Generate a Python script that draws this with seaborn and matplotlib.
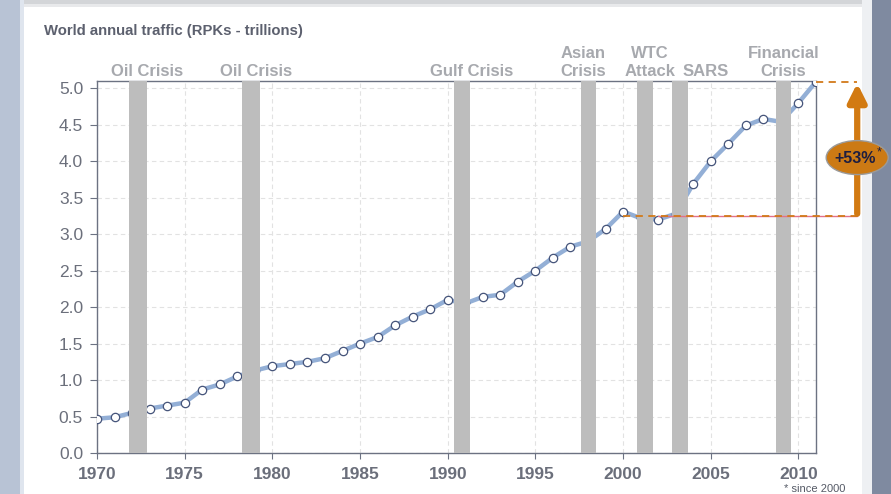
import matplotlib
matplotlib.use("Agg")
import matplotlib.pyplot as plt
import seaborn as sns
import pandas as pd
from matplotlib.patches import Rectangle, Ellipse
import matplotlib.transforms as mtransforms

# ---------------- data ----------------
years = list(range(1970, 2012))
rpk = [0.47, 0.49, 0.55, 0.61, 0.65, 0.69, 0.87, 0.94, 1.05, 1.13,
       1.19, 1.22, 1.25, 1.30, 1.40, 1.50, 1.59, 1.75, 1.87, 1.97,
       2.10, 2.05, 2.14, 2.17, 2.35, 2.50, 2.68, 2.83, 2.90, 3.07,
       3.31, 3.22, 3.20, 3.28, 3.69, 4.00, 4.24, 4.49, 4.58, 4.54,
       4.80, 5.09]
crisis_labels = ["Oil Crisis", "Oil Crisis", "Gulf Crisis", "Asian\nCrisis",
                 "WTC\nAttack", "SARS", "Financial\nCrisis"]
crisis_start = [1971.83, 1978.27, 1990.37, 1997.60, 2000.80, 2002.80, 2008.70]
crisis_end = [1972.85, 1979.30, 1991.28, 1998.46, 2001.70, 2003.70, 2009.60]
crisis_label_x = [1972.88, 1979.07, 1991.39, 1997.72, 2001.55, 2004.68, 2009.13]
baseline_2000 = 3.25
growth_label = "+53%"
x_ticks = [1970, 1975, 1980, 1985, 1990, 1995, 2000, 2005, 2010]
y_ticks = [0.0, 0.5, 1.0, 1.5, 2.0, 2.5, 3.0, 3.5, 4.0, 4.5, 5.0]

df = pd.DataFrame({"year": years, "rpk": rpk})

sns.set_theme(style="white")
plt.rcParams['font.family'] = ['Liberation Sans', 'DejaVu Sans']

W, H = 891, 494
fig = plt.figure(figsize=(W / 100, H / 100), dpi=100)
fig.patch.set_facecolor("white")

def px(x0, y0, w, h, color, z=-5):
    fig.patches.append(Rectangle((x0 / W, 1 - (y0 + h) / H), w / W, h / H,
                                 transform=fig.transFigure, color=color,
                                 zorder=z, linewidth=0))

# background frame
px(0, 0, 20, H, "#b8c3d5")
px(20, 0, 4, H, "#dfe5ee")
px(862, 0, 10, H, "#eef0f3")
px(872, 0, 19, H, "#7f8aa0")
px(24, 0, 838, 4, "#d3d5d8")
px(24, 4, 838, 3, "#e8e9eb")

ax = fig.add_axes([97 / W, 1 - 453 / H, (816 - 97) / W, (453 - 81) / H])
ax.set_zorder(2)
ax.set_facecolor("white")

sns.lineplot(data=df, x="year", y="rpk", ax=ax, color="#93afd6", linewidth=3.2,
             marker="o", markersize=6, markerfacecolor="white",
             markeredgecolor="#45547a", markeredgewidth=0.9, zorder=3)

for s, e in zip(crisis_start, crisis_end):
    ax.axvspan(s, e, color="#bdbdbd", zorder=4, linewidth=0)

ax.set_xlim(1970, 2011)
ax.set_ylim(0, 5.1)
ax.set_xticks(x_ticks)
ax.set_yticks(y_ticks)
ax.set_yticklabels([f"{v:.1f}" for v in y_ticks])
ax.set_xlabel("")
ax.set_ylabel("")
ax.grid(True, color="#e2e2e2", linestyle=(0, (4, 3)), linewidth=0.8)
ax.set_axisbelow(True)
for sp in ax.spines.values():
    sp.set_color("#6c7282")
    sp.set_linewidth(1.0)
ax.tick_params(axis="x", length=4, width=0.8, color="#6c7282", pad=6,
               labelsize=12.5, labelcolor="#6b6f7b", bottom=True)
ax.tick_params(axis="y", length=5, width=0.8, color="#6c7282", pad=5,
               labelsize=12.5, labelcolor="#6b6f7b", left=True)
for lab in ax.get_xticklabels():
    lab.set_fontweight("bold")

# crisis labels above the axes
trans = mtransforms.blended_transform_factory(ax.transData, ax.transAxes)
for lab, xx in zip(crisis_labels, crisis_label_x):
    ax.text(xx, 1.005, lab, transform=trans, ha="center", va="bottom",
            fontsize=12, fontweight="bold", color="#a7a9ae",
            linespacing=1.25, clip_on=False)

# reference lines and growth arrow
x_arrow = 2013.35
ax.plot([2002, x_arrow], [baseline_2000, baseline_2000], color="#e4708a",
        linewidth=1.0, zorder=5, clip_on=False)
ax.plot([2000, x_arrow], [baseline_2000, baseline_2000], color="#d27a1a",
        linewidth=1.3, linestyle=(0, (4, 3)), zorder=6, clip_on=False)
ax.plot([2011, x_arrow], [rpk[-1], rpk[-1]], color="#d27a1a",
        linewidth=1.3, linestyle=(0, (4, 3)), zorder=6, clip_on=False)
ax.annotate("", xy=(x_arrow, rpk[-1] - 0.02), xytext=(x_arrow, baseline_2000 + 0.03),
            arrowprops=dict(arrowstyle="-|>,head_width=0.45,head_length=0.9",
                            color="#d27a12", linewidth=4.5, shrinkA=0, shrinkB=0),
            annotation_clip=False, zorder=7)
ell = Ellipse((x_arrow, 4.05), width=62 / 17.53, height=34 / 73.0,
              facecolor="#cc7a14", edgecolor="#9a9a9a", linewidth=1.0,
              zorder=8, clip_on=False)
ax.add_patch(ell)
ax.text(x_arrow - 0.12, 4.04, growth_label, ha="center", va="center",
        fontsize=11.5, fontweight="bold", color="#1e1e40", zorder=9, clip_on=False)
ax.text(x_arrow + 1.25, 4.12, "*", ha="center", va="center",
        fontsize=9, color="#1e1e40", zorder=9, clip_on=False)

# title and footnote
fig.text(44 / W, 1 - 31 / H, "World annual traffic (RPKs - trillions)",
         ha="left", va="center", fontsize=10.7, fontweight="bold", color="#5c606e")
fig.text(815 / W, 1 - 484 / H, "* since 2000", ha="center", va="top",
         fontsize=8, color="#555a66")

fig.savefig("out.png", dpi=100, facecolor=fig.get_facecolor())
